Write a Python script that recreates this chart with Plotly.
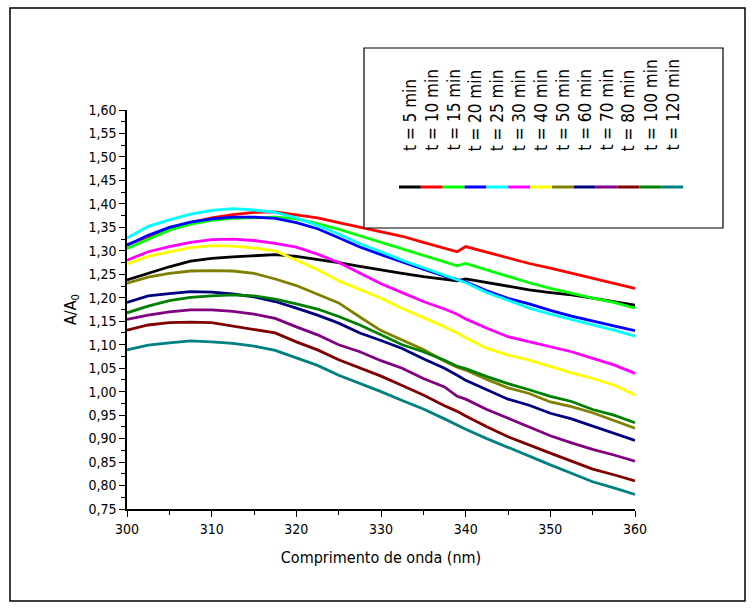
import plotly.graph_objects as go

wavelength = [300, 302.5, 305, 307.5, 310, 312.5, 315, 317.5, 320, 322.5, 325, 327.5, 330,
              332.5, 335, 337.5, 339, 340, 342.5, 345, 347.5, 350, 352.5, 355, 357.5, 360]

t5 = [1.238, 1.252, 1.266, 1.278, 1.284, 1.287, 1.290, 1.292, 1.288, 1.282, 1.275, 1.267, 1.259,
      1.252, 1.245, 1.240, 1.236, 1.240, 1.232, 1.224, 1.217, 1.211, 1.206, 1.199, 1.192, 1.184]
t10 = [1.313, 1.330, 1.347, 1.360, 1.370, 1.377, 1.382, 1.383, 1.377, 1.370, 1.360, 1.350, 1.340,
       1.331, 1.318, 1.305, 1.298, 1.309, 1.297, 1.284, 1.273, 1.263, 1.252, 1.241, 1.231, 1.220]
t15 = [1.305, 1.325, 1.344, 1.357, 1.365, 1.369, 1.371, 1.372, 1.368, 1.358, 1.346, 1.332, 1.318,
       1.303, 1.289, 1.275, 1.268, 1.273, 1.259, 1.245, 1.232, 1.220, 1.209, 1.199, 1.190, 1.178]
t20 = [1.312, 1.333, 1.350, 1.361, 1.368, 1.372, 1.372, 1.369, 1.360, 1.347, 1.328, 1.308, 1.292,
       1.276, 1.261, 1.246, 1.238, 1.234, 1.215, 1.199, 1.187, 1.173, 1.161, 1.150, 1.140, 1.130]
t25 = [1.327, 1.352, 1.366, 1.378, 1.386, 1.390, 1.387, 1.382, 1.370, 1.354, 1.336, 1.315, 1.298,
       1.280, 1.264, 1.248, 1.238, 1.232, 1.211, 1.194, 1.178, 1.165, 1.154, 1.143, 1.131, 1.118]
t30 = [1.280, 1.298, 1.309, 1.318, 1.324, 1.325, 1.322, 1.316, 1.308, 1.293, 1.275, 1.252, 1.230,
       1.211, 1.192, 1.176, 1.165, 1.155, 1.135, 1.117, 1.106, 1.096, 1.085, 1.071, 1.057, 1.039]
t40 = [1.272, 1.288, 1.298, 1.307, 1.311, 1.310, 1.306, 1.300, 1.280, 1.260, 1.236, 1.218, 1.199,
       1.177, 1.158, 1.138, 1.125, 1.115, 1.092, 1.078, 1.067, 1.053, 1.040, 1.028, 1.014, 0.993]
t50 = [1.231, 1.244, 1.252, 1.257, 1.258, 1.257, 1.252, 1.240, 1.226, 1.208, 1.189, 1.159, 1.130,
       1.110, 1.090, 1.065, 1.052, 1.046, 1.026, 1.008, 0.996, 0.978, 0.968, 0.955, 0.939, 0.922]
t60 = [1.190, 1.204, 1.209, 1.213, 1.212, 1.208, 1.202, 1.192, 1.178, 1.163, 1.146, 1.125, 1.109,
       1.092, 1.070, 1.050, 1.035, 1.024, 1.004, 0.984, 0.971, 0.954, 0.942, 0.927, 0.912, 0.896]
t70 = [1.154, 1.163, 1.170, 1.174, 1.174, 1.171, 1.165, 1.156, 1.138, 1.121, 1.100, 1.085, 1.066,
       1.050, 1.028, 1.010, 0.990, 0.984, 0.962, 0.943, 0.925, 0.906, 0.891, 0.877, 0.865, 0.852]
t80 = [1.131, 1.142, 1.147, 1.148, 1.147, 1.140, 1.133, 1.125, 1.106, 1.089, 1.068, 1.050, 1.033,
       1.013, 0.993, 0.970, 0.958, 0.948, 0.925, 0.904, 0.886, 0.869, 0.852, 0.835, 0.823, 0.810]
t100 = [1.168, 1.182, 1.194, 1.201, 1.204, 1.206, 1.204, 1.197, 1.187, 1.176, 1.160, 1.142, 1.121,
        1.100, 1.085, 1.067, 1.054, 1.049, 1.032, 1.017, 1.004, 0.990, 0.979, 0.962, 0.950, 0.934]
t120 = [1.089, 1.099, 1.104, 1.108, 1.106, 1.103, 1.097, 1.088, 1.072, 1.056, 1.035, 1.018, 1.000,
        0.981, 0.963, 0.942, 0.928, 0.920, 0.900, 0.881, 0.862, 0.844, 0.826, 0.808, 0.795, 0.781]

series_names = ["t = 5 min", "t = 10 min", "t = 15 min", "t = 20 min", "t = 25 min", "t = 30 min",
                "t = 40 min", "t = 50 min", "t = 60 min", "t = 70 min", "t = 80 min",
                "t = 100 min", "t = 120 min"]
series_values = [t5, t10, t15, t20, t25, t30, t40, t50, t60, t70, t80, t100, t120]
series_colors = ["#000000", "#FF0000", "#00FF00", "#0000FF", "#00FFFF", "#FF00FF", "#FFFF00",
                 "#808000", "#000080", "#800080", "#800000", "#008000", "#008080"]

W, H = 753, 611
L, R, T, B = 127, 635, 110, 509   # plot area in pixels

def fx(x):
    return (x - L) / (R - L)

def fy(y):
    return (B - y) / (B - T)

FONT = "DejaVu Sans Condensed, Liberation Sans Narrow, sans-serif"

fig = go.Figure()
for name, vals, col in zip(series_names, series_values, series_colors):
    fig.add_trace(go.Scatter(x=wavelength, y=vals, mode="lines", name=name,
                             line=dict(color=col, width=2.8), showlegend=False))

shapes = []
annotations = []
# outer border of the figure
shapes.append(dict(type="rect", xref="paper", yref="paper",
                   x0=fx(10), x1=fx(745), y0=fy(601), y1=fy(8),
                   line=dict(color="black", width=1.5), fillcolor="rgba(0,0,0,0)", layer="below"))
# legend box
shapes.append(dict(type="rect", xref="paper", yref="paper",
                   x0=fx(364), x1=fx(723), y0=fy(228), y1=fy(48),
                   line=dict(color="black", width=1.2), fillcolor="white", layer="above"))
seg_x0, seg_x1, seg_y = 399, 683, 187
seg_w = (seg_x1 - seg_x0) / len(series_names)
for i, (name, col) in enumerate(zip(series_names, series_colors)):
    a = seg_x0 + i * seg_w
    b = a + seg_w
    shapes.append(dict(type="line", xref="paper", yref="paper",
                       x0=fx(a), x1=fx(b), y0=fy(seg_y), y1=fy(seg_y),
                       line=dict(color=col, width=3), layer="above"))
    annotations.append(dict(xref="paper", yref="paper", x=fx((a + b) / 2), y=fy(153),
                            text=name, textangle=-90, showarrow=False,
                            xanchor="center", yanchor="bottom",
                            font=dict(family=FONT, size=17, color="black")))

fig.update_layout(
    width=W, height=H,
    margin=dict(l=L, r=W - R, t=T, b=H - B, pad=0),
    paper_bgcolor="white", plot_bgcolor="white",
    separators=",.",
    font=dict(family=FONT, size=14, color="black"),
    shapes=shapes, annotations=annotations,
    showlegend=False,
)
fig.update_xaxes(range=[300, 360], dtick=10, tick0=300, showgrid=False, zeroline=False,
                 showline=True, linecolor="black", linewidth=1.5,
                 ticks="outside", ticklen=6, tickwidth=1.3, tickcolor="black",
                 minor=dict(dtick=5, ticks="outside", ticklen=4, tickwidth=1.2, tickcolor="black"),
                 tickfont=dict(family=FONT, size=14),
                 title=dict(text="Comprimento de onda (nm)", font=dict(family=FONT, size=16),
                            standoff=16))
fig.update_yaxes(range=[0.75, 1.60], dtick=0.05, tick0=0.75, tickformat=".2f",
                 showgrid=False, zeroline=False,
                 showline=True, linecolor="black", linewidth=1.5,
                 ticks="outside", ticklen=6, tickwidth=1.3, tickcolor="black",
                 minor=dict(dtick=0.025, ticks="outside", ticklen=4, tickwidth=1.2, tickcolor="black"),
                 tickfont=dict(family=FONT, size=14),
                 title=dict(text="A/A<sub>0</sub>", font=dict(family=FONT, size=16), standoff=8))

fig.write_html("out.html", config={"displayModeBar": False},
               post_script="document.body.style.margin='0';document.body.style.padding='0';")
